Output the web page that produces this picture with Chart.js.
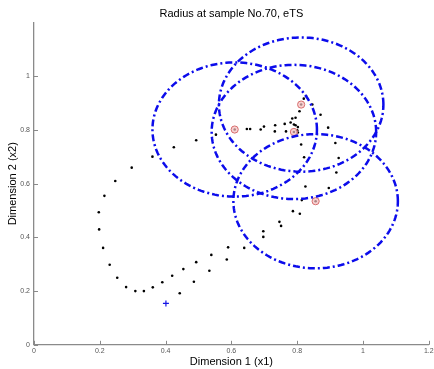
<!DOCTYPE html>
<html>
<head>
<meta charset="utf-8">
<script src="https://cdn.jsdelivr.net/npm/chart.js@4.4.1/dist/chart.umd.min.js"></script>
<style>
  html, body { margin: 0; padding: 0; background: #fff; }
  #wrap { width: 434px; height: 369px; }
</style>
</head>
<body>
<div id="wrap"><canvas id="c" width="434" height="369"></canvas></div>
<script>
// samples seen so far (black dots)
const sampleX = [0.197, 0.198, 0.210, 0.230, 0.253, 0.280, 0.308, 0.334, 0.361, 0.390, 0.420, 0.454, 0.493, 0.443, 0.486,
  0.214, 0.247, 0.297, 0.360, 0.425, 0.493,
  0.533, 0.539, 0.586, 0.590, 0.639, 0.697, 0.697, 0.746, 0.751, 0.787, 0.808,
  0.553, 0.610, 0.647, 0.657, 0.689, 0.699, 0.733, 0.732, 0.762, 0.766, 0.780, 0.785, 0.795, 0.790, 0.795, 0.802, 0.790, 0.800, 0.802, 0.807, 0.812, 0.820, 0.827, 0.846, 0.871,
  0.812, 0.821, 0.825, 0.894, 0.916, 0.926, 0.919, 0.896, 0.814, 0.856];
const sampleY = [0.494, 0.430, 0.361, 0.298, 0.250, 0.215, 0.200, 0.200, 0.214, 0.233, 0.257, 0.282, 0.308, 0.192, 0.235,
  0.555, 0.610, 0.660, 0.701, 0.736, 0.762,
  0.276, 0.335, 0.318, 0.363, 0.361, 0.402, 0.423, 0.458, 0.443, 0.498, 0.488,
  0.783, 0.802, 0.804, 0.804, 0.802, 0.813, 0.818, 0.795, 0.823, 0.795, 0.828, 0.843, 0.846, 0.821, 0.818, 0.811, 0.793, 0.799, 0.791, 0.870, 0.895, 0.917, 0.927, 0.895, 0.857,
  0.746, 0.699, 0.590, 0.809, 0.752, 0.696, 0.642, 0.584, 0.539, 0.535];

// cluster centres and their radius
const centerX = [0.610, 0.790, 0.812, 0.856];
const centerY = [0.802, 0.793, 0.895, 0.535];
const radius = [0.25, 0.25, 0.25, 0.25];

// current sample (blue +)
const currentX = [0.401];
const currentY = [0.154];

const ticksX = [0, 0.2, 0.4, 0.6, 0.8, 1, 1.2];
const ticksY = [0, 0.2, 0.4, 0.6, 0.8, 1];

const toPts = (xs, ys) => xs.map((x, i) => ({x: x, y: ys[i]}));

function circlePts(cx, cy, r) {
  const pts = [];
  for (let k = 0; k <= 180; k++) {
    const a = k / 180 * Math.PI * 2;
    pts.push({x: cx + r * Math.cos(a), y: cy + r * Math.sin(a)});
  }
  return pts;
}

const datasets = [];
centerX.forEach((cx, i) => {
  datasets.push({
    data: circlePts(cx, centerY[i], radius[i]),
    showLine: true,
    borderColor: 'rgb(12,12,235)',
    borderWidth: 2.5,
    borderDash: [7, 3, 2, 3],
    pointRadius: 0,
    fill: false,
    tension: 0
  });
});
datasets.push({
  data: toPts(centerX, centerY),
  pointStyle: 'circle',
  pointRadius: 3.6,
  borderWidth: 1,
  borderColor: 'rgb(215,110,110)',
  backgroundColor: 'rgba(245,190,190,0.7)'
});
datasets.push({
  data: toPts(sampleX, sampleY),
  pointStyle: 'circle',
  pointRadius: 1.3,
  borderWidth: 0,
  backgroundColor: '#000'
});
datasets.push({
  data: toPts(currentX, currentY),
  pointStyle: 'cross',
  pointRadius: 3,
  borderWidth: 1.2,
  borderColor: 'rgb(20,20,230)'
});

const axisGray = '#8a8a8a';
const font = 'Liberation Sans, Arial, sans-serif';
const fmt = v => String(Math.round(v * 10) / 10);

// title over the plot area + inward tick marks, matlab style
const extras = {
  id: 'extras',
  afterDraw(chart) {
    const {ctx, chartArea, scales} = chart;
    ctx.save();
    ctx.strokeStyle = axisGray;
    ctx.lineWidth = 1;
    ticksX.forEach(v => {
      const px = Math.round(scales.x.getPixelForValue(v)) + 0.5;
      ctx.beginPath();
      ctx.moveTo(px, chartArea.bottom);
      ctx.lineTo(px, chartArea.bottom - 4);
      ctx.stroke();
    });
    ticksY.forEach(v => {
      const py = Math.round(scales.y.getPixelForValue(v)) + 0.5;
      ctx.beginPath();
      ctx.moveTo(chartArea.left, py);
      ctx.lineTo(chartArea.left + 4, py);
      ctx.stroke();
    });
    ctx.fillStyle = '#000';
    ctx.font = '11px ' + font;
    ctx.textAlign = 'center';
    ctx.textBaseline = 'middle';
    ctx.fillText('Radius at sample No.70, eTS', (chartArea.left + chartArea.right) / 2, 13.5);
    ctx.restore();
  }
};

new Chart(document.getElementById('c'), {
  type: 'scatter',
  data: {datasets: datasets},
  plugins: [extras],
  options: {
    responsive: false,
    animation: false,
    layout: {padding: {top: 22.7, right: 4, left: 0, bottom: 0}},
    plugins: {
      legend: {display: false},
      tooltip: {enabled: false}
    },
    scales: {
      x: {
        type: 'linear',
        min: 0,
        max: 1.2,
        afterBuildTicks: s => { s.ticks = ticksX.map(v => ({value: v})); },
        afterFit: s => { s.height = 24.2; s.paddingLeft = 0; s.paddingRight = 0; },
        grid: {display: false, drawTicks: false},
        border: {display: true, color: axisGray, width: 1.3},
        ticks: {
          padding: 2,
          color: '#555',
          font: {family: font, size: 7},
          maxRotation: 0,
          autoSkip: false,
          callback: fmt
        },
        title: {
          display: true,
          text: 'Dimension 1 (x1)',
          color: '#000',
          font: {family: font, size: 11},
          padding: {top: 0, bottom: 0}
        }
      },
      y: {
        type: 'linear',
        min: 0,
        max: 1.2,
        afterBuildTicks: s => { s.ticks = ticksY.map(v => ({value: v})); },
        afterFit: s => { s.width = 34; s.paddingTop = 0; s.paddingBottom = 0; },
        grid: {display: false, drawTicks: false},
        border: {display: true, color: axisGray, width: 1.3},
        ticks: {
          padding: 4,
          color: '#555',
          font: {family: font, size: 7},
          autoSkip: false,
          callback: fmt
        },
        title: {
          display: true,
          text: 'Dimension 2 (x2)',
          color: '#000',
          font: {family: font, size: 11},
          padding: {top: 6.5, bottom: 0}
        }
      }
    }
  }
});
</script>
</body>
</html>
